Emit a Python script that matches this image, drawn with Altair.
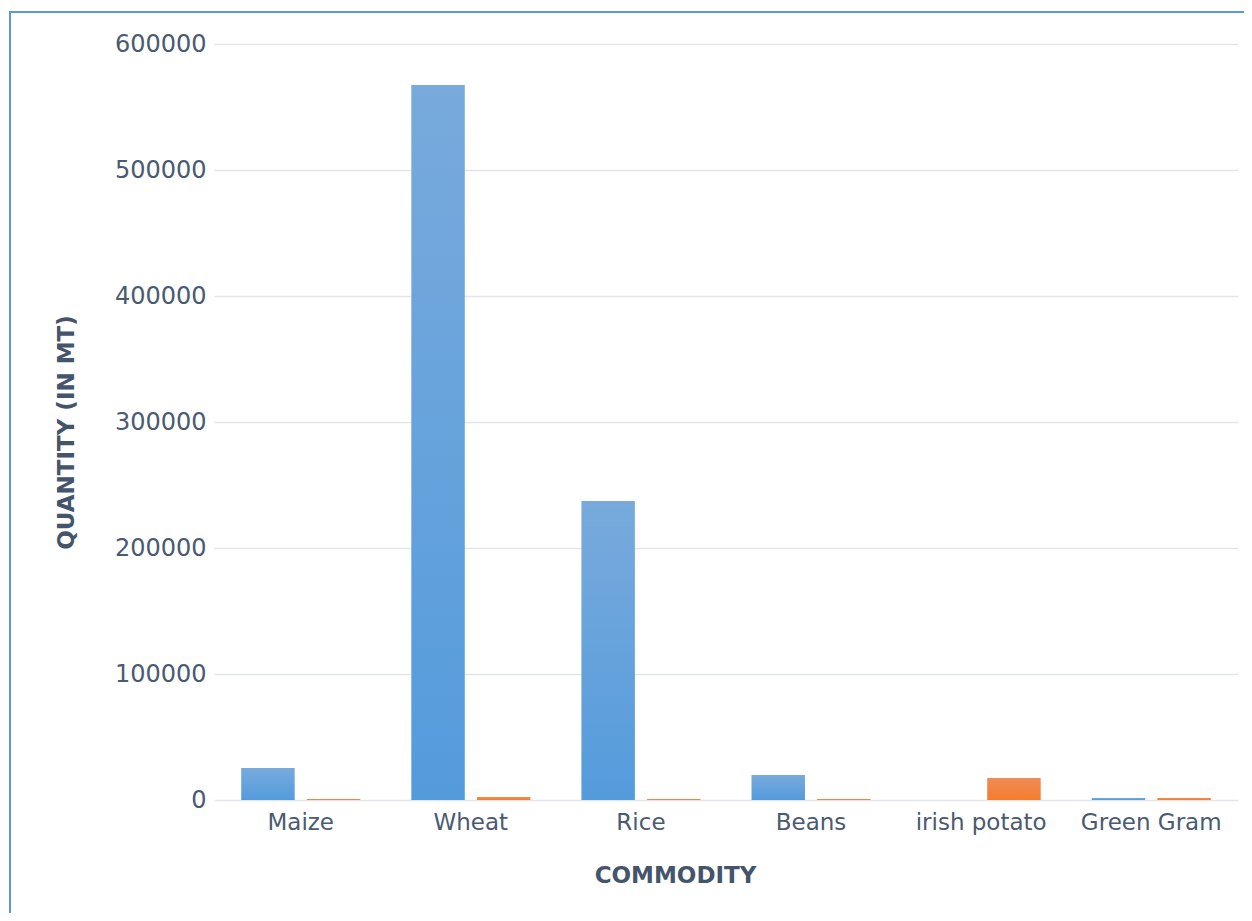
import altair as alt
import pandas as pd

commodities = ["Maize", "Wheat", "Rice", "Beans", "irish potato", "Green Gram"]
series_a = [25400, 567500, 237300, 19800, 0, 1600]
series_b = [800, 2400, 800, 800, 17500, 1600]
series_names = ["Series1", "Series2"]
y_ticks = [0, 100000, 200000, 300000, 400000, 500000, 600000]

rows = []
for c, a, b in zip(commodities, series_a, series_b):
    rows.append({"commodity": c, "series": series_names[0], "value": a})
    rows.append({"commodity": c, "series": series_names[1], "value": b})
df = pd.DataFrame(rows)

text_color = "#495a72"
font = "DejaVu Sans"

blue_grad = alt.Gradient(
    gradient="linear",
    stops=[alt.GradientStop(color="#78aadc", offset=0),
           alt.GradientStop(color="#549bdc", offset=1)],
    x1=0, x2=0, y1=0, y2=1,
)
orange_grad = alt.Gradient(
    gradient="linear",
    stops=[alt.GradientStop(color="#ef8c58", offset=0),
           alt.GradientStop(color="#f57c2c", offset=1)],
    x1=0, x2=0, y1=0, y2=1,
)

x_enc = alt.X(
    "commodity:N",
    sort=commodities,
    scale=alt.Scale(paddingInner=0.3, paddingOuter=0.16),
    axis=alt.Axis(
        title="COMMODITY",
        labelAngle=0,
        labelFontSize=23,
        labelColor=text_color,
        labelFont=font,
        labelPadding=11,
        titleFontSize=23,
        titleFontWeight="bold",
        titleColor="#44546a",
        titleFont=font,
        titleX=461,
        titleY=75,
        titleBaseline="middle",
        domain=False,
        ticks=False,
    ),
)
y_enc = alt.Y(
    "value:Q",
    scale=alt.Scale(domain=[0, 600000], nice=False),
    axis=alt.Axis(
        title="QUANTITY (IN MT)",
        values=y_ticks,
        format="d",
        labelFontSize=24,
        labelColor=text_color,
        labelFont=font,
        labelPadding=8,
        titleFontSize=23,
        titleFontWeight="bold",
        titleColor="#44546a",
        titleFont=font,
        titleX=-148,
        titleY=388,
        titleAngle=-90,
        titleAlign="center",
        titleBaseline="middle",
        domain=False,
        ticks=False,
        grid=True,
        gridColor="#e2e5eb",
        gridWidth=1.6,
    ),
)
xoff = alt.XOffset(
    "series:N",
    sort=series_names,
    scale=alt.Scale(domain=series_names, paddingInner=0.185, paddingOuter=0),
)

base = alt.Chart(df)
bars_a = base.transform_filter(alt.datum.series == series_names[0]).mark_bar(
    color=blue_grad
).encode(x=x_enc, y=y_enc, xOffset=xoff)
bars_b = base.transform_filter(alt.datum.series == series_names[1]).mark_bar(
    color=orange_grad
).encode(x=x_enc, y=y_enc, xOffset=xoff)

frame = alt.Chart(pd.DataFrame({"f": [0]})).mark_rect(
    fill=None, stroke="#5b9bd5", strokeWidth=2, clip=False
).encode(
    x=alt.value(-204), x2=alt.value(1200),
    y=alt.value(-32), y2=alt.value(1000),
)

chart = alt.layer(frame, bars_a, bars_b).properties(
    width=1024,
    height=756,
    autosize=alt.AutoSizeParams(type="none"),
    padding={"left": 206, "top": 36, "right": 6, "bottom": 113},
    background="white",
).configure_view(stroke=None)

chart.save("out.html", embed_options={"renderer": "svg", "actions": False})
